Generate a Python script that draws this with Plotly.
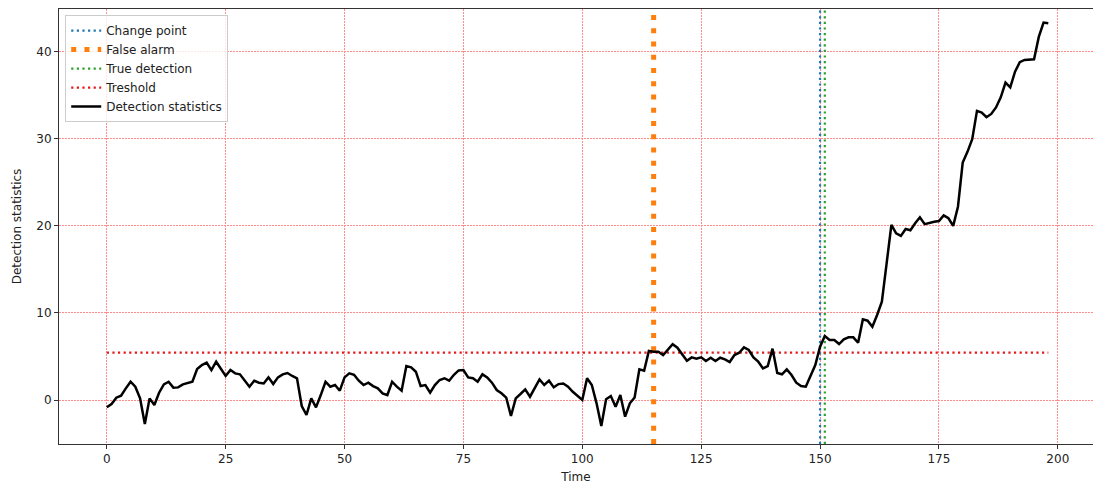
import plotly.graph_objects as go

time = list(range(199))
stat = [
    -0.84, -0.46, 0.27, 0.5, 1.34, 2.1, 1.53, 0.19, -2.76, 0.19,
    -0.57, 0.84, 1.8, 2.1, 1.42, 1.45, 1.8, 1.99, 2.1, 3.56,
    4.02, 4.29, 3.44, 4.4, 3.6, 2.76, 3.44, 3.06, 2.95, 2.22,
    1.53, 2.22, 1.99, 1.9, 2.6, 1.83, 2.6, 2.95, 3.1, 2.76,
    2.5, -0.69, -1.72, 0.19, -0.84, 0.57, 2.1, 1.53, 1.72, 1.07,
    2.6, 3.06, 2.9, 2.22, 1.72, 1.99, 1.6, 1.34, 0.77, 0.57,
    2.1, 1.53, 1.07, 3.9, 3.75, 3.25, 1.6, 1.72, 0.84, 1.72,
    2.3, 2.5, 2.22, 2.9, 3.4, 3.44, 2.6, 2.5, 2.1, 2.95,
    2.6, 1.99, 1.15, 0.77, 0.27, -1.83, 0.19, 0.69, 1.22, 0.38,
    1.34, 2.37, 1.72, 2.22, 1.45, 1.83, 1.9, 1.53, 0.95, 0.46,
    0.0, 2.5, 1.72, -0.38, -2.99, 0.08, 0.46, -0.77, 0.57, -1.91,
    -0.38, 0.3, 3.52, 3.37, 5.63, 5.55, 5.55, 5.17, 5.82, 6.4,
    6.01, 5.28, 4.52, 4.9, 4.75, 4.9, 4.48, 4.86, 4.48, 4.86,
    4.67, 4.36, 5.17, 5.43, 6.05, 5.75, 4.9, 4.4, 3.63, 3.9,
    5.9, 3.1, 2.95, 3.52, 2.87, 1.99, 1.6, 1.53, 2.68, 4.02,
    6.12, 7.35, 6.9, 6.9, 6.43, 6.97, 7.2, 7.2, 6.58, 9.26,
    9.11, 8.42, 9.76, 11.3, 15.7, 20.1, 19.14, 18.84, 19.64, 19.5,
    20.3, 20.98, 20.2, 20.37, 20.48, 20.56, 21.2, 20.87, 20.0, 22.2,
    27.26, 28.5, 29.94, 33.2, 33.0, 32.47, 32.85, 33.6, 34.76, 36.45,
    35.9, 37.7, 38.8, 39.05, 39.05, 39.13, 41.7, 43.34, 43.26,
]
change_point = 150
false_alarm = 115
true_detection = 151
threshold = 5.45

x_range = [-10.05, 207.4]
y_range = [-5.05, 44.9]
x_ticks = [0, 25, 50, 75, 100, 125, 150, 175, 200]
y_ticks = [0, 10, 20, 30, 40]

fig = go.Figure()
fig.add_trace(go.Scatter(
    x=[change_point, change_point], y=y_range, mode="lines", name="Change point",
    line=dict(color="#1f77b4", width=2.2, dash="2.2px,3.4px")))
fig.add_trace(go.Scatter(
    x=[false_alarm, false_alarm], y=y_range, mode="lines", name="False alarm",
    line=dict(color="#ff7f0e", width=5, dash="5px,8.25px")))
fig.add_trace(go.Scatter(
    x=[true_detection, true_detection], y=y_range, mode="lines", name="True detection",
    line=dict(color="#2ca02c", width=2.2, dash="2.2px,3.4px")))
fig.add_trace(go.Scatter(
    x=[time[0], time[-1]], y=[threshold, threshold], mode="lines", name="Treshold",
    line=dict(color="#e3191c", width=2.2, dash="2.2px,3.4px")))
fig.add_trace(go.Scatter(
    x=time, y=stat, mode="lines", name="Detection statistics",
    line=dict(color="black", width=2.5)))

font = dict(family="DejaVu Sans", size=12, color="#222")
axis_common = dict(
    showgrid=True, gridcolor="#ff8c8c", gridwidth=1, griddash="2px,1px",
    zeroline=False, showline=True, linecolor="#333", linewidth=1,
    ticks="outside", ticklen=4, tickcolor="#333", tickfont=font,
)
fig.update_xaxes(range=x_range, tickvals=x_ticks, mirror=True,
                 title=dict(text="Time", font=font, standoff=8), **axis_common)
fig.update_yaxes(range=y_range, tickvals=y_ticks, mirror=False,
                 title=dict(text="Detection statistics", font=font, standoff=12), **axis_common)

fig.update_layout(
    width=1093, height=484,
    margin=dict(l=59, r=0, t=9, b=40),
    paper_bgcolor="white", plot_bgcolor="white",
    font=font,
    legend=dict(x=0.006, y=0.986, xanchor="left", yanchor="top",
                bgcolor="rgba(255,255,255,0.8)", bordercolor="#cccccc", borderwidth=1,
                font=dict(family="DejaVu Sans", size=12, color="#222"),
                tracegroupgap=0),
    showlegend=True,
)
fig.write_html("out.html")
